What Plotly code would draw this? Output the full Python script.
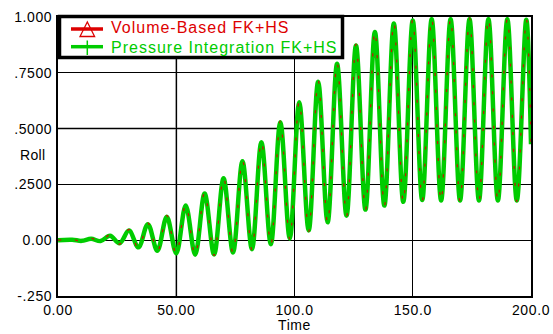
import plotly.graph_objects as go

# Extrema of the roll time history (time, roll)
time_pts = [0, 6, 10, 14, 18, 22, 26, 30, 34, 38, 42, 46, 50, 54, 58, 62, 66, 70,
            74, 78, 82, 86, 90, 94, 98, 102, 106, 110, 114, 118, 122, 126, 130,
            134, 138, 142, 146, 150, 154, 158, 162, 166, 170, 174, 178, 182, 186,
            190, 194, 198, 200]
roll_pressure = [0.0, 0.002, -0.003, 0.006, -0.004, 0.020, -0.014, 0.043, -0.032,
                 0.072, -0.047, 0.105, -0.059, 0.155, -0.065, 0.209, -0.064, 0.277,
                 -0.055, 0.354, -0.040, 0.439, -0.018, 0.529, 0.008, 0.618, 0.044,
                 0.710, 0.080, 0.790, 0.110, 0.872, 0.137, 0.933, 0.155, 0.971,
                 0.172, 0.984, 0.180, 0.990, 0.178, 0.990, 0.178, 0.990, 0.178,
                 0.990, 0.178, 0.990, 0.178, 0.988, 0.430]
roll_volume = [0.0, 0.003, -0.004, 0.008, -0.006, 0.024, -0.018, 0.048, -0.036,
               0.078, -0.051, 0.111, -0.063, 0.161, -0.069, 0.215, -0.068, 0.283,
               -0.059, 0.360, -0.044, 0.445, -0.022, 0.535, 0.004, 0.624, 0.040,
               0.716, 0.076, 0.796, 0.106, 0.878, 0.133, 0.939, 0.151, 0.977,
               0.168, 0.990, 0.176, 0.996, 0.174, 0.996, 0.174, 0.996, 0.174,
               0.996, 0.174, 0.996, 0.174, 0.994, 0.440]

series_names = ["Volume-Based FK+HS", "Pressure Integration FK+HS"]
x_ticks = [0, 50, 100, 150, 200]
x_ticktext = ["0.00", "50.00", "100.0", "150.0", "200.0"]
y_ticks = [-0.25, 0, 0.25, 0.5, 0.75, 1.0]
y_ticktext = ["-.250", "0.00", ".2500", ".5000", ".7500", "1.000"]
x_range = [0, 200]
y_range = [-0.25, 1.0]

RED = "#dd0000"
GREEN = "#00cc00"
FONT = "Liberation Sans, Arial, sans-serif"

W, H = 553, 334
ML, MR, MT, MB = 58, 22, 17, 38
PW, PH = W - ML - MR, H - MT - MB


def px(xp):
    return (xp - ML) / PW


def py(yp):
    return (H - MB - yp) / PH


def spaced(s, sp=0.6):
    return f'<span style="letter-spacing:{sp}px">{s}</span>'


fig = go.Figure()

# data curves
fig.add_trace(go.Scatter(x=time_pts, y=roll_pressure, mode="lines", name=series_names[1],
                         line=dict(color=GREEN, width=4.5, shape="spline", smoothing=1.0),
                         showlegend=False, hoverinfo="skip"))
fig.add_trace(go.Scatter(x=time_pts, y=roll_volume, mode="lines", name=series_names[0],
                         line=dict(color=RED, width=1.3, shape="spline", smoothing=1.0,
                                   dash="3px,14px"),
                         opacity=0.85, showlegend=False, hoverinfo="skip"))

# grey middle grid lines (above the black grid, below the data)
fig.add_shape(type="line", xref="x", yref="y", x0=x_ticks[1], x1=x_ticks[1],
              y0=y_range[0], y1=y_range[1],
              line=dict(color="#808080", width=2), layer="below")
fig.add_shape(type="line", xref="x", yref="y", x0=x_range[0], x1=x_range[1],
              y0=y_ticks[3], y1=y_ticks[3],
              line=dict(color="#808080", width=2), layer="below")

# legend box (drawn by hand)
fig.add_shape(type="rect", xref="paper", yref="paper",
              x0=px(59.5), x1=px(342.5), y0=py(57.5), y1=py(16.5),
              line=dict(color="black", width=3.5), fillcolor="white", layer="above")
# red entry symbol
fig.add_shape(type="line", xref="paper", yref="paper", x0=px(71), x1=px(103),
              y0=py(29), y1=py(29), line=dict(color=RED, width=3.5), layer="above")
fig.add_shape(type="path", xref="paper", yref="paper",
              path=(f"M {px(87.3)} {py(22)} L {px(80)} {py(36.5)} "
                    f"L {px(94.6)} {py(36.5)} Z"),
              line=dict(color=RED, width=1.3), layer="above")
# green entry symbol
fig.add_shape(type="line", xref="paper", yref="paper", x0=px(71), x1=px(103),
              y0=py(46.7), y1=py(46.7), line=dict(color=GREEN, width=3.5), layer="above")
fig.add_shape(type="line", xref="paper", yref="paper", x0=px(87.3), x1=px(87.3),
              y0=py(40.5), y1=py(55), line=dict(color=GREEN, width=1.5), layer="above")

fig.add_annotation(text=spaced(series_names[0], 1.0), xref="paper", yref="paper",
                   x=px(109), y=py(27.3), xanchor="left", yanchor="middle",
                   showarrow=False, font=dict(family=FONT, size=16, color=RED))
fig.add_annotation(text=spaced(series_names[1], 1.0), xref="paper", yref="paper",
                   x=px(109), y=py(47.0), xanchor="left", yanchor="middle",
                   showarrow=False, font=dict(family=FONT, size=16, color=GREEN))

fig.add_annotation(text=spaced("Roll", 0.3), xref="paper", yref="paper", x=px(47), y=py(155),
                   xanchor="right", yanchor="middle", showarrow=False,
                   font=dict(family=FONT, size=14, color="black"))
fig.add_annotation(text=spaced("Time", 0.6), xref="paper", yref="paper", x=0.5, y=py(325),
                   xanchor="center", yanchor="middle", showarrow=False,
                   font=dict(family=FONT, size=14, color="black"))

fig.update_layout(
    width=W, height=H,
    margin=dict(l=ML, r=MR, t=MT, b=MB, autoexpand=False),
    paper_bgcolor="white", plot_bgcolor="white",
    font=dict(family=FONT, size=14, color="black"),
    showlegend=False,
    xaxis=dict(range=x_range, tickvals=x_ticks,
               ticktext=[spaced(t) for t in x_ticktext],
               showgrid=True, gridcolor="black", gridwidth=1,
               showline=True, linecolor="black", linewidth=2, mirror=True,
               zeroline=False, ticks="", ticklabelstandoff=0, automargin=False),
    yaxis=dict(range=y_range, tickvals=y_ticks,
               ticktext=[spaced(t) for t in y_ticktext],
               showgrid=True, gridcolor="black", gridwidth=1,
               showline=True, linecolor="black", linewidth=2, mirror=True,
               zeroline=False, ticks="", ticklabelstandoff=1, automargin=False),
)

fig.write_html("out.html")
